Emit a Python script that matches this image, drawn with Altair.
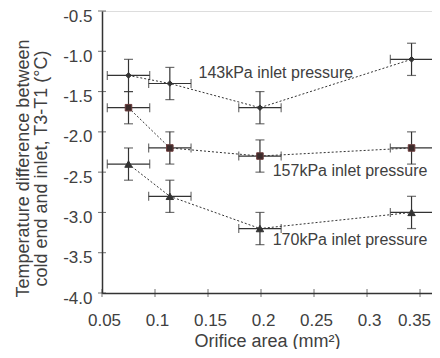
import altair as alt
import pandas as pd

areas = [0.075, 0.114, 0.199, 0.342]
series_names = ["143kPa", "157kPa", "170kPa"]
t143 = [-1.3, -1.4, -1.7, -1.1]
t157 = [-1.7, -2.2, -2.3, -2.2]
t170 = [-2.4, -2.8, -3.2, -3.0]
y_err = [0.2, 0.2, 0.2, 0.2]
x_err = [0.02, 0.02, 0.02, 0.02]

label_text = ["143kPa inlet pressure", "157kPa inlet pressure", "170kPa inlet pressure"]
label_x = [0.214, 0.284, 0.284]
label_y = [-1.27, -2.49, -3.34]

x_ticks = [0.05, 0.1, 0.15, 0.2, 0.25, 0.3, 0.35]
y_ticks = [-0.5, -1.0, -1.5, -2.0, -2.5, -3.0, -3.5, -4.0]

rows = []
for name, vals in zip(series_names, [t143, t157, t170]):
    for xv, yv, ye, xe in zip(areas, vals, y_err, x_err):
        rows.append(dict(series=name, x=xv, y=yv, ylo=yv - ye, yhi=yv + ye,
                         xlo=xv - xe, xhi=xv + xe))
df = pd.DataFrame(rows)
labels = pd.DataFrame(dict(text=label_text, x=label_x, y=label_y))
xt = pd.DataFrame(dict(v=x_ticks))
yt = pd.DataFrame(dict(v=y_ticks))

DARK = "#333333"
TXT = "#404040"
FONT = "Liberation Sans"

xs = alt.Scale(domain=[0.05, 0.3613], nice=False, zero=False)
ys = alt.Scale(domain=[-4.0, -0.5], nice=False, zero=False)

X = alt.X("x:Q", scale=xs, axis=alt.Axis(
    title="Orifice area (mm²)", values=x_ticks, ticks=False, grid=False,
    labelExpr="format(datum.value, '~g')", labelFontSize=17, titleFontSize=18,
    labelPadding=19, titlePadding=4, labelFlush=False, labelOverlap=False,
    labelOffset={"condition": {"test": "datum.value >= 0.34", "value": -6},
                 "value": 2},
    domainColor=DARK, domainWidth=1.5,
    labelColor=TXT, titleColor=TXT, labelFont=FONT, titleFont=FONT,
    titleFontWeight="normal"))
Y = alt.Y("y:Q", scale=ys, axis=alt.Axis(
    title=["Temperature difference between", "cold end and inlet, T3-T1 (°C)"],
    values=y_ticks, ticks=False, grid=False,
    labelExpr="replace(format(datum.value, '.1f'), '\u2212', '-')",
    labelFontSize=17, titleFontSize=18, labelPadding=10, titlePadding=12,
    titleY=157,
    labelOffset=5, labelFlush=False, labelOverlap=False,
    domainColor=DARK, domainWidth=1.5, labelColor=TXT, titleColor=TXT,
    labelFont=FONT, titleFont=FONT, titleFontWeight="normal", titleLineHeight=18))

base = alt.Chart(df)

lines = base.mark_line(strokeDash=[2, 2], color=DARK, strokeWidth=1).encode(
    x=X, y=Y, detail="series:N")
vrule = base.mark_rule(color=DARK, strokeWidth=1.2).encode(
    x=alt.X("x:Q", scale=xs), y=alt.Y("ylo:Q", scale=ys), y2="yhi:Q")
hrule = base.mark_rule(color=DARK, strokeWidth=1.2).encode(
    x=alt.X("xlo:Q", scale=xs), x2="xhi:Q", y=alt.Y("y:Q", scale=ys))
cap_lo = base.mark_tick(orient="horizontal", color=DARK, size=9, thickness=1.2).encode(
    x=alt.X("x:Q", scale=xs), y=alt.Y("ylo:Q", scale=ys))
cap_hi = base.mark_tick(orient="horizontal", color=DARK, size=9, thickness=1.2).encode(
    x=alt.X("x:Q", scale=xs), y=alt.Y("yhi:Q", scale=ys))
cap_l = base.mark_tick(orient="vertical", color=DARK, size=9, thickness=1.2).encode(
    x=alt.X("xlo:Q", scale=xs), y=alt.Y("y:Q", scale=ys))
cap_r = base.mark_tick(orient="vertical", color=DARK, size=9, thickness=1.2).encode(
    x=alt.X("xhi:Q", scale=xs), y=alt.Y("y:Q", scale=ys))
points = base.mark_point(filled=True, opacity=1, strokeWidth=1).encode(
    x=alt.X("x:Q", scale=xs), y=alt.Y("y:Q", scale=ys),
    shape=alt.Shape("series:N", scale=alt.Scale(domain=series_names,
                    range=["diamond", "square", "triangle-up"]), legend=None),
    size=alt.Size("series:N", scale=alt.Scale(domain=series_names,
                  range=[30, 55, 40]), legend=None),
    color=alt.Color("series:N", scale=alt.Scale(domain=series_names,
                    range=[DARK, "#3a2b2b", DARK]), legend=None),
    stroke=alt.Stroke("series:N", scale=alt.Scale(domain=series_names,
                      range=[DARK, "#6b3b3b", DARK]), legend=None))
text = alt.Chart(labels).mark_text(fontSize=16, font=FONT, color=TXT).encode(
    x=alt.X("x:Q", scale=xs), y=alt.Y("y:Q", scale=ys), text="text:N")
xtick = alt.Chart(xt).mark_tick(orient="vertical", color=DARK, size=8, thickness=1).encode(
    x=alt.X("v:Q", scale=xs), y=alt.datum(-4.0))
ytick = alt.Chart(yt).mark_tick(orient="horizontal", color=DARK, size=8, thickness=1).encode(
    y=alt.Y("v:Q", scale=ys), x=alt.datum(0.05))

chart = alt.layer(lines, vrule, hrule, cap_lo, cap_hi, cap_l, cap_r, points, text,
                  xtick, ytick).properties(
    width=330, height=282,
    autosize=alt.AutoSizeParams(type="none"),
    padding={"left": 94, "top": 3, "right": 0, "bottom": 56},
).configure_view(stroke="#555555", strokeWidth=1).configure(background="white")

chart.save("out.html", embed_options={"renderer": "svg", "actions": False})
